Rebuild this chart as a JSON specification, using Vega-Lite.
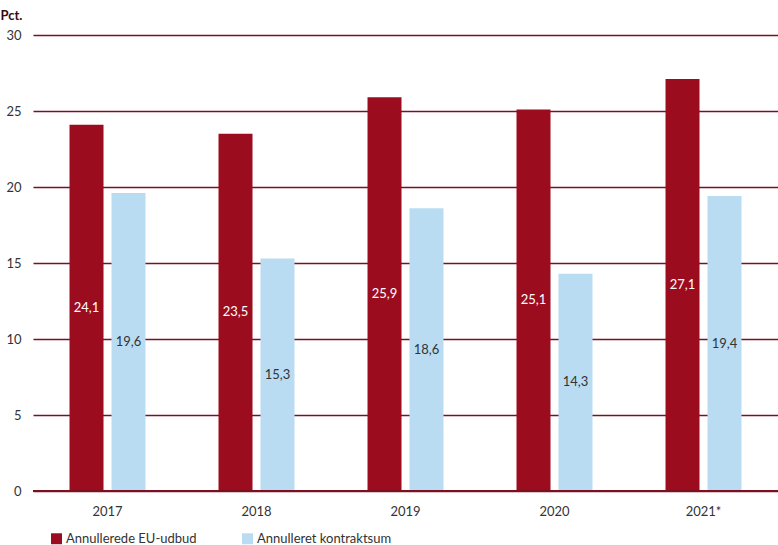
{
  "$schema": "https://vega.github.io/schema/vega-lite/v6.json",
  "width": 745,
  "height": 456,
  "autosize": "none",
  "padding": {"left": 33, "top": 35, "right": 0, "bottom": 54},
  "background": "white",
  "data": {
    "values": [
      {"aar": "2017", "serie": "Annullerede EU-udbud", "v": 24.1},
      {"aar": "2017", "serie": "Annulleret kontraktsum", "v": 19.6},
      {"aar": "2018", "serie": "Annullerede EU-udbud", "v": 23.5},
      {"aar": "2018", "serie": "Annulleret kontraktsum", "v": 15.3},
      {"aar": "2019", "serie": "Annullerede EU-udbud", "v": 25.9},
      {"aar": "2019", "serie": "Annulleret kontraktsum", "v": 18.6},
      {"aar": "2020", "serie": "Annullerede EU-udbud", "v": 25.1},
      {"aar": "2020", "serie": "Annulleret kontraktsum", "v": 14.3},
      {"aar": "2021*", "serie": "Annullerede EU-udbud", "v": 27.1},
      {"aar": "2021*", "serie": "Annulleret kontraktsum", "v": 19.4}
    ]
  },
  "layer": [
    {
      "mark": {"type": "bar"},
      "encoding": {
        "x": {
          "field": "aar",
          "type": "nominal",
          "sort": null,
          "scale": {"paddingInner": 0.49, "paddingOuter": 0.245},
          "axis": {
            "title": null,
            "labelAngle": 0,
            "ticks": false,
            "domain": false,
            "labelPadding": 14,
            "labelFontSize": 13,
            "labelColor": "#333333",
            "labelFont": "Lato"
          }
        },
        "xOffset": {
          "field": "serie",
          "type": "nominal",
          "sort": null,
          "scale": {"paddingInner": 0.19, "paddingOuter": 0}
        },
        "y": {
          "field": "v",
          "type": "quantitative",
          "scale": {"domain": [0, 30], "nice": false},
          "axis": {
            "title": "Pct.",
            "titleAngle": 0,
            "titleAlign": "left",
            "titleBaseline": "middle",
            "titleX": -33,
            "titleY": -20,
            "titleFont": "Lato",
            "titleFontSize": 13,
            "titleFontWeight": "bold",
            "titleColor": "#3a0a0f",
            "values": [0, 5, 10, 15, 20, 25, 30],
            "grid": true,
            "gridColor": "#7a1020",
            "gridWidth": 1.3,
            "ticks": false,
            "domain": false,
            "labelPadding": 12,
            "labelFontSize": 13,
            "labelColor": "#333333",
            "labelFont": "Lato"
          }
        },
        "color": {
          "field": "serie",
          "type": "nominal",
          "sort": null,
          "scale": {
            "domain": ["Annullerede EU-udbud", "Annulleret kontraktsum"],
            "range": ["#9c0c1f", "#b9dcf2"]
          },
          "legend": {
            "title": null,
            "orient": "none",
            "direction": "horizontal",
            "legendX": 17,
            "legendY": 497,
            "symbolType": "square",
            "symbolSize": 120,
            "symbolStrokeWidth": 0,
            "labelFontSize": 13,
            "labelFont": "Lato",
            "labelColor": "#333333",
            "labelOffset": 3,
            "columnPadding": 44,
            "labelLimit": 300
          }
        }
      }
    },
    {
      "transform": [{"calculate": "datum.v / 2", "as": "midt"}],
      "mark": {"type": "text", "fontSize": 13, "font": "Lato", "baseline": "middle"},
      "encoding": {
        "x": {"field": "aar", "type": "nominal", "sort": null},
        "xOffset": {"field": "serie", "type": "nominal", "sort": null},
        "y": {"field": "midt", "type": "quantitative"},
        "text": {"field": "v", "type": "quantitative", "format": ".1f"},
        "color": {
          "condition": {"test": "datum.serie === 'Annullerede EU-udbud'", "value": "white"},
          "value": "#333333"
        }
      }
    },
    {
      "data": {"values": [{"nul": 0}]},
      "mark": {"type": "rule", "color": "#7a1020", "strokeWidth": 2},
      "encoding": {"y": {"field": "nul", "type": "quantitative"}}
    }
  ],
  "config": {
    "view": {"stroke": null},
    "locale": {
      "number": {"decimal": ",", "thousands": ".", "grouping": [3], "currency": ["", " kr."]}
    }
  }
}
